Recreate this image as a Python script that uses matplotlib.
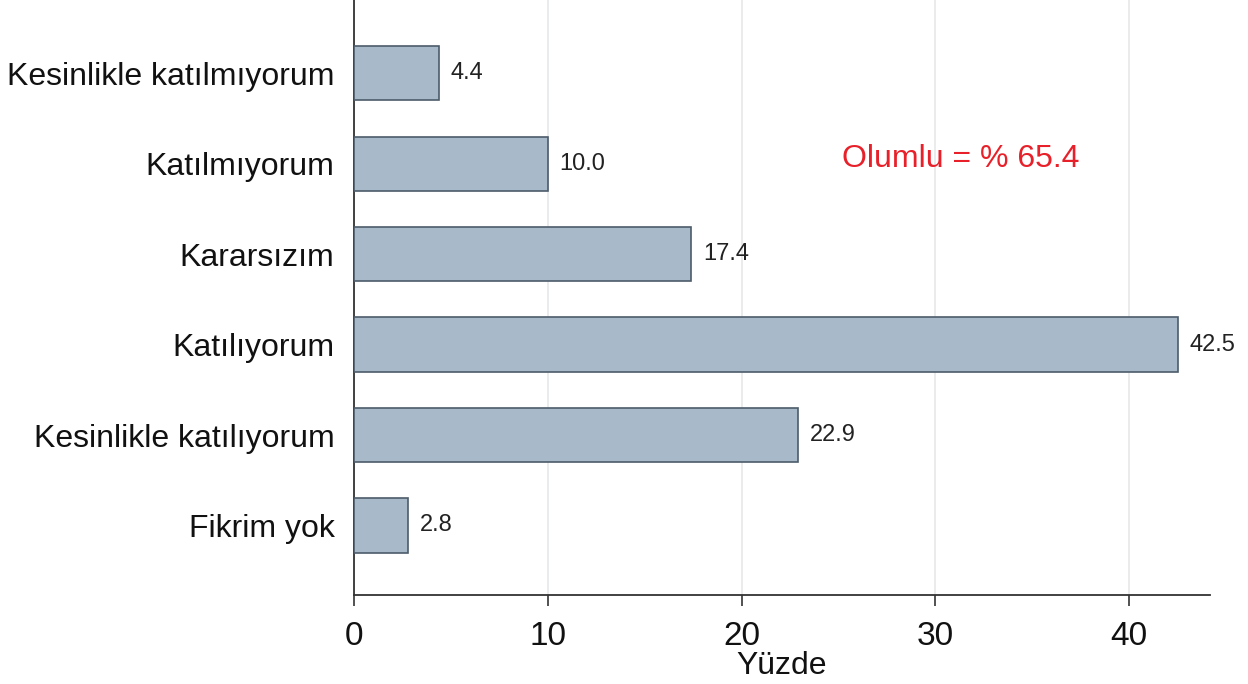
import matplotlib.pyplot as plt

plt.rcParams['font.family'] = ['Liberation Sans', 'DejaVu Sans']

# veri (yukaridan asagiya)
kategoriler = ['Kesinlikle katılmıyorum', 'Katılmıyorum', 'Kararsızım',
               'Katılıyorum', 'Kesinlikle katılıyorum', 'Fikrim yok']
yuzdeler = [4.4, 10.0, 17.4, 42.5, 22.9, 2.8]
x_ticks = [0, 10, 20, 30, 40]
not_metni = 'Olumlu = % 65.4'

fig = plt.figure(figsize=(12.48, 6.84), dpi=100)
ax = fig.add_axes([0.2837, 0.130, 0.6859, 0.870])

n = len(kategoriler)
pos = [n - 1 - i for i in range(n)]
ax.barh(pos, yuzdeler, height=0.6, color='#a8b9ca', edgecolor='#4d5c6b',
        linewidth=1.2, zorder=3)

for p, v in zip(pos, yuzdeler):
    ax.text(v + 0.6, p, f'{v:.1f}', va='center', ha='left',
            fontsize=17, color='#222222', zorder=4)

ax.set_yticks(pos)
ax.set_yticklabels(kategoriler, fontsize=23, color='#111111')
ax.set_xticks(x_ticks)
ax.set_xticklabels([str(t) for t in x_ticks], fontsize=24, color='#111111')
ax.set_xlim(0, 44.18)
ax.set_ylim(-0.77, n - 1 + 0.81)

ax.tick_params(axis='y', length=0, pad=14)
ax.tick_params(axis='x', length=8, width=1.2, color='#333333', pad=11)

ax.grid(axis='x', color='#e6e8ea', linewidth=1.2, zorder=0)
for s in ['top', 'right']:
    ax.spines[s].set_visible(False)
for s in ['left', 'bottom']:
    ax.spines[s].set_color('#333333')
    ax.spines[s].set_linewidth(1.3)

ax.set_xlabel('Yüzde', fontsize=23, color='#111111', labelpad=-1)

ax.text(25.2, 4.05, not_metni, color='#e8202a', fontsize=23,
        va='center', ha='left')

fig.savefig('out.png', dpi=100)
